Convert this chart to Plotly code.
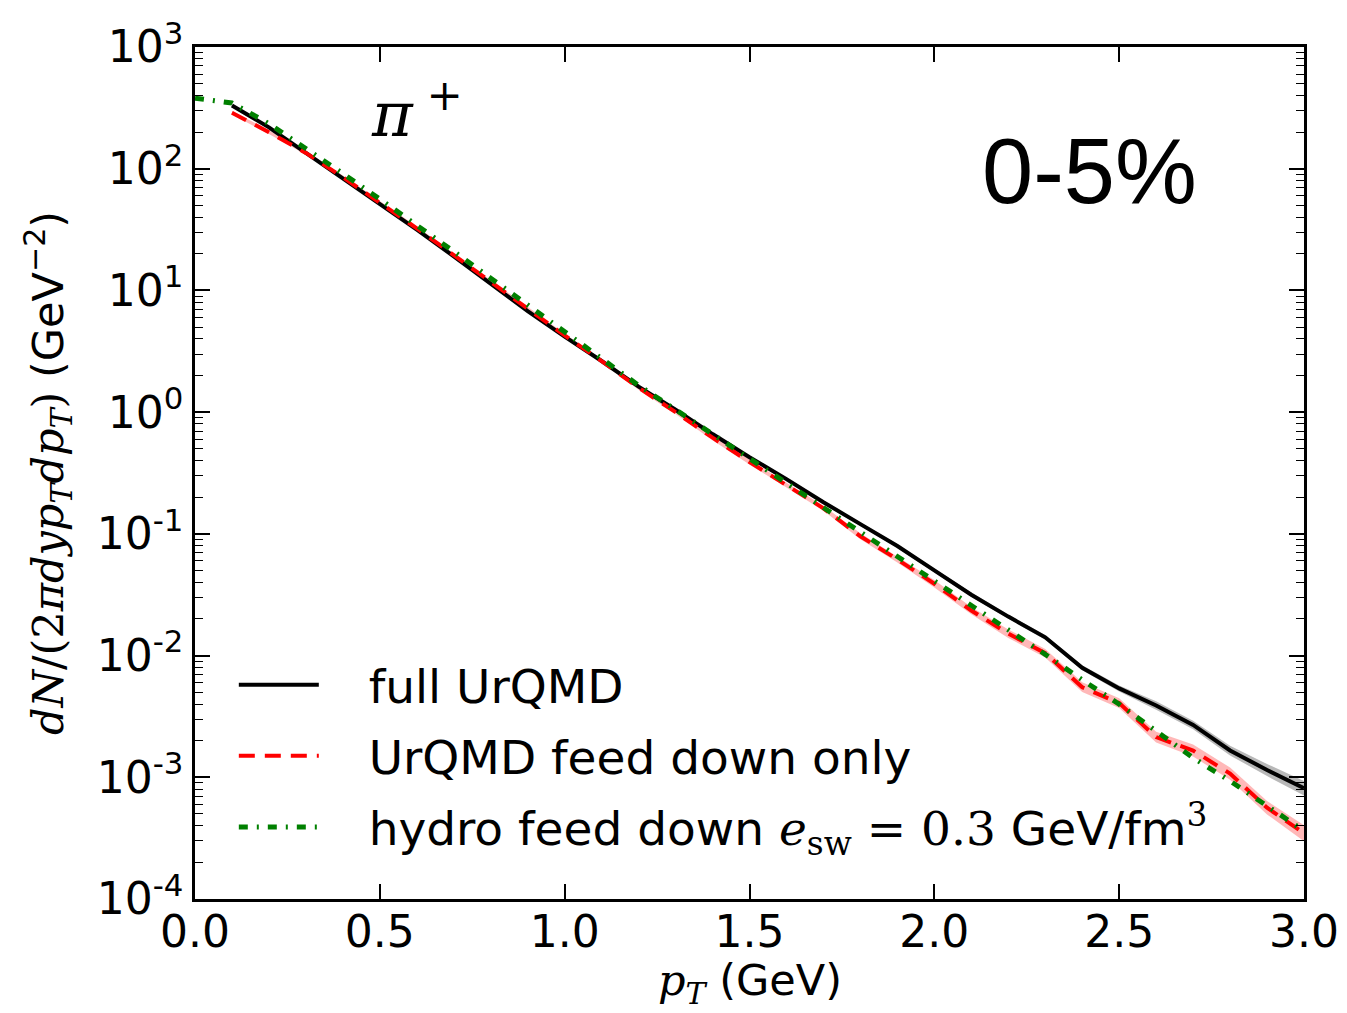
import plotly.graph_objects as go

# ---------------- data (log10 of dN/(2pi dy pT dpT)) ----------------
pt_urqmd = [0.1, 0.2, 0.3, 0.4, 0.5, 0.6, 0.7, 0.8, 0.9, 1.0,
            1.1, 1.2, 1.3, 1.4, 1.5, 1.6, 1.7, 1.8, 1.9, 2.0,
            2.1, 2.2, 2.3, 2.4, 2.5, 2.6, 2.7, 2.8, 2.9, 3.0]
log_full = [2.52, 2.34, 2.13, 1.92, 1.71, 1.50, 1.28, 1.05, 0.83, 0.62,
            0.42, 0.21, 0.02, -0.18, -0.37, -0.55, -0.74, -0.92, -1.10, -1.30,
            -1.50, -1.68, -1.85, -2.10, -2.27, -2.41, -2.57, -2.78, -2.94, -3.09]
err_full = [0.01, 0.01, 0.01, 0.01, 0.01, 0.01, 0.01, 0.01, 0.01, 0.01,
            0.01, 0.01, 0.01, 0.01, 0.012, 0.012, 0.012, 0.015, 0.015, 0.015,
            0.018, 0.018, 0.02, 0.02, 0.025, 0.035, 0.035, 0.04, 0.05, 0.06]
log_feed = [2.46, 2.30, 2.13, 1.93, 1.72, 1.51, 1.29, 1.07, 0.85, 0.63,
            0.42, 0.20, 0.00, -0.21, -0.41, -0.60, -0.79, -1.02, -1.21, -1.41,
            -1.63, -1.82, -1.98, -2.26, -2.39, -2.67, -2.78, -2.97, -3.25, -3.46]
err_feed = [0.015, 0.015, 0.015, 0.015, 0.015, 0.015, 0.015, 0.015, 0.015, 0.015,
            0.015, 0.015, 0.015, 0.02, 0.02, 0.02, 0.02, 0.025, 0.025, 0.03,
            0.03, 0.035, 0.035, 0.04, 0.04, 0.045, 0.05, 0.05, 0.055, 0.065]
pt_hydro = [0.0, 0.1, 0.2, 0.3, 0.4, 0.5, 0.6, 0.7, 0.8, 0.9, 1.0,
            1.1, 1.2, 1.3, 1.4, 1.5, 1.6, 1.7, 1.8, 1.9, 2.0,
            2.1, 2.2, 2.3, 2.4, 2.5, 2.6, 2.7, 2.8, 2.9, 3.0]
log_hydro = [2.58, 2.54, 2.37, 2.17, 1.96, 1.75, 1.54, 1.32, 1.10, 0.88, 0.66,
             0.44, 0.22, 0.02, -0.18, -0.38, -0.58, -0.78, -0.99, -1.18, -1.38,
             -1.58, -1.79, -1.99, -2.20, -2.40, -2.62, -2.84, -3.03, -3.23, -3.44]

ytick_exp = [-4, -3, -2, -1, 0, 1, 2, 3]
xtick_vals = [0.0, 0.5, 1.0, 1.5, 2.0, 2.5, 3.0]

full = [10 ** v for v in log_full]
full_hi = [10 ** (v + e) for v, e in zip(log_full, err_full)]
full_lo = [10 ** (v - e) for v, e in zip(log_full, err_full)]
feed = [10 ** v for v in log_feed]
feed_hi = [10 ** (v + e) for v, e in zip(log_feed, err_feed)]
feed_lo = [10 ** (v - e) for v, e in zip(log_feed, err_feed)]
hydro = [10 ** v for v in log_hydro]

SERIF = "font-family:'DejaVu Serif'"

def m(s):
    return f"<span style=\"{SERIF}\"><i>{s}</i></span>"

fig = go.Figure()

# bands
fig.add_trace(go.Scatter(x=pt_urqmd + pt_urqmd[::-1], y=full_hi + full_lo[::-1],
                         fill="toself", fillcolor="rgba(0,0,0,0.28)", line=dict(width=0),
                         mode="lines", showlegend=False, hoverinfo="skip"))
fig.add_trace(go.Scatter(x=pt_urqmd + pt_urqmd[::-1], y=feed_hi + feed_lo[::-1],
                         fill="toself", fillcolor="rgba(255,0,0,0.28)", line=dict(width=0),
                         mode="lines", showlegend=False, hoverinfo="skip"))

pad = "\u00a0\u00a0\u00a0"
fig.add_trace(go.Scatter(x=pt_urqmd, y=full, mode="lines", name=pad + "full UrQMD",
                         legendgroup="a",
                         line=dict(color="black", width=4)))
fig.add_trace(go.Scatter(x=pt_urqmd, y=feed, mode="lines", name=pad + "UrQMD feed down only",
                         legendgroup="b",
                         line=dict(color="rgb(255,0,0)", width=4, dash="16px,10px")))
fig.add_trace(go.Scatter(x=pt_hydro, y=hydro, mode="lines", legendgroup="c",
                         name=pad + "hydro feed down " + m("e") + "<sub><span style=\"" + SERIF + "\">sw</span></sub>"
                         + "<span style=\"" + SERIF + "\"> = 0.3</span> GeV/fm<sup><span style=\"" + SERIF + "\">3</span></sup>",
                         line=dict(color="rgb(0,128,0)", width=5, dash="9px,9px,2px,9px")))

tick_font = dict(family="DejaVu Sans", size=44, color="black")

fig.update_layout(
    width=1347, height=1013,
    margin=dict(l=195, r=43, t=47, b=114),
    paper_bgcolor="white", plot_bgcolor="white",
    font=dict(family="DejaVu Sans", color="black"),
    legend=dict(x=0.035, y=0.295, xanchor="left", yanchor="top",
                font=dict(family="DejaVu Sans", size=47, color="black"),
                bgcolor="rgba(0,0,0,0)", itemwidth=80, tracegroupgap=7),
    xaxis=dict(range=[0, 3], tickvals=xtick_vals,
               ticktext=[f"{v:.1f}" for v in xtick_vals],
               ticks="inside", ticklen=15, tickwidth=1.5, tickcolor="black",
               showline=True, linecolor="black", linewidth=2.5, mirror="ticks",
               showgrid=False, zeroline=False, tickfont=tick_font, automargin=False,
               ticklabelstandoff=-8),
    yaxis=dict(type="log", range=[-4, 3],
               tickvals=[10 ** e for e in ytick_exp],
               ticktext=[f"10<sup>{e}</sup>" for e in ytick_exp],
               ticks="inside", ticklen=15, tickwidth=1.5, tickcolor="black",
               minor=dict(ticks="inside", ticklen=8, tickcolor="black", tickwidth=1,
                          dtick="D1", showgrid=False),
               showline=True, linecolor="black", linewidth=2.5, mirror="ticks",
               showgrid=False, zeroline=False, tickfont=tick_font, automargin=False,
               title=dict(text=m("dN") + "/" + "<span style=\"" + SERIF + "\">(2</span>"
                          + m("πdyp") + "<sub>" + m("T") + "</sub>" + m("dp") + "<sub>" + m("T") + "</sub>"
                          + "<span style=\"" + SERIF + "\">)</span> (GeV<sup>−2</sup>)",
                          font=dict(family="DejaVu Sans", size=43), standoff=20)),
)

# x-axis title as annotation below the tick labels
fig.add_annotation(x=0.5, y=-0.099, xref="paper", yref="paper", xanchor="center", yanchor="middle",
                   text=m("p") + "<sub>" + m("T") + "</sub> (GeV)", showarrow=False,
                   font=dict(family="DejaVu Sans", size=43, color="black"))
fig.add_annotation(x=0.2, y=0.925, xref="paper", yref="paper", xanchor="center", yanchor="middle",
                   text="<i>π</i><sup> +</sup>", showarrow=False,
                   font=dict(family="DejaVu Serif", size=62, color="black"))
fig.add_annotation(x=0.807, y=0.855, xref="paper", yref="paper", xanchor="center", yanchor="middle",
                   text="0-5%", showarrow=False,
                   font=dict(family="Liberation Sans", size=92, color="black"))

fig.write_html("out.html")
